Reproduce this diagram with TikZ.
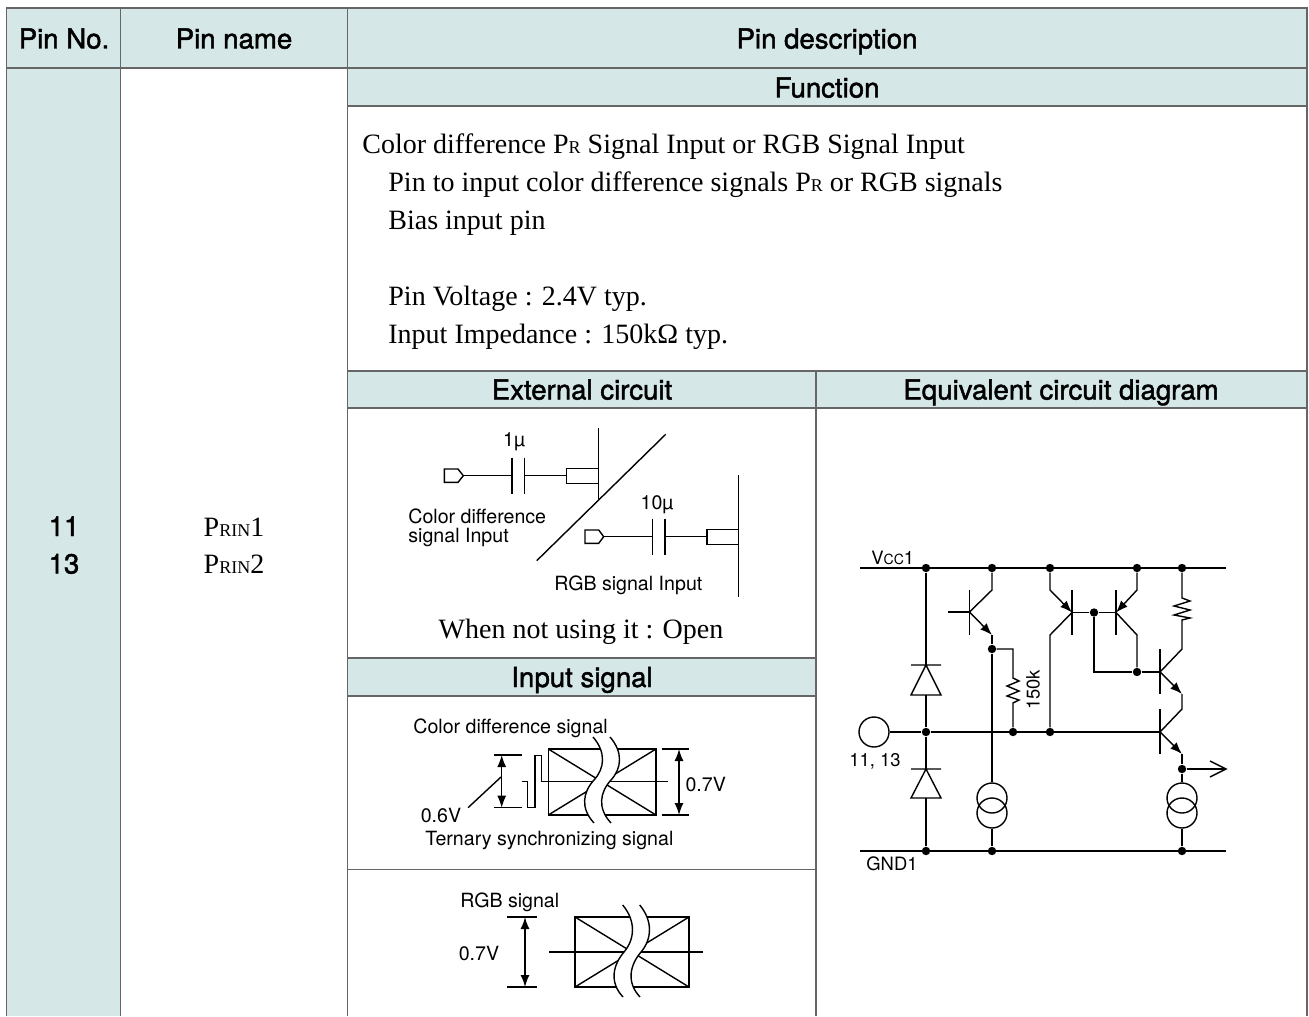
\documentclass[tikz,border=0pt]{standalone}
\usepackage{fontspec}
\setmainfont{Liberation Serif}
\setsansfont{TeX Gyre Heros}
\newfontfamily\headfont[FakeBold=1.6]{TeX Gyre Heros}
\usetikzlibrary{arrows.meta}
\definecolor{headfill}{HTML}{D5E8E7}
\definecolor{tablegrey}{HTML}{666666}

\begin{document}
\begin{tikzpicture}
  [x=0.5pt, y=-0.5pt,
   gridline/.style={draw=tablegrey, line width=0.75pt},
   head/.style={anchor=base, inner sep=0pt, font=\headfont\fontsize{13.8}{15}\selectfont},
   desc/.style={anchor=base west, inner sep=0pt, font=\fontsize{14}{16}\selectfont},
   note/.style={inner sep=0pt, align=left, font=\sffamily\fontsize{9.8}{9.5}\selectfont},
   circnote/.style={inner sep=0pt, font=\sffamily\fontsize{9.2}{10}\selectfont},
   wire/.style={line width=0.7pt},
   emit/.style={-{Latex[length=6pt,width=4.5pt]}},
   dim/.style={{Latex[length=6pt,width=4.5pt]}-{Latex[length=6pt,width=4.5pt]}},
   dot/.style={circle, fill=black, inner sep=0pt, minimum size=4.2pt},
   ring/.style={circle, draw, line width=0.7pt, inner sep=0pt, minimum size=15pt}]
  \useasboundingbox (0, 0) rectangle (1309, 1016);

  \fill[headfill] (6.5, 8) rectangle (1307, 68);
  \fill[headfill] (6.5, 68) rectangle (120.5, 1016);
  \fill[headfill] (347.5, 68) rectangle (1307, 106);
  \fill[headfill] (347.5, 371) rectangle (1307, 408);
  \fill[headfill] (347.5, 658) rectangle (816, 696);
  \draw[gridline] (6.5, 1016) -- (6.5, 8) -- (1307, 8) -- (1307, 1016);
  \draw[gridline] (120.5, 8) -- (120.5, 1016);
  \draw[gridline] (347.5, 8) -- (347.5, 1016);
  \draw[gridline] (816, 371) -- (816, 1016);
  \draw[gridline] (6.5, 68) -- (1307, 68);
  \draw[gridline] (347.5, 106) -- (1307, 106);
  \draw[gridline] (347.5, 371) -- (1307, 371);
  \draw[gridline] (347.5, 408) -- (1307, 408);
  \draw[gridline] (347.5, 658) -- (816, 658);
  \draw[gridline] (347.5, 696) -- (816, 696);
  \draw[gridline] (347.5, 869.5) -- (816, 869.5);

  \node (headno) [head] at (64, 48.5) {Pin No.};
  \node (headname) [head] at (234, 48.5) {Pin name};
  \node (headdesc) [head] at (827, 48.5) {Pin description};
  \node (headfunc) [head] at (827, 97.5) {Function};
  \node (headext) [head] at (582, 399.5) {External circuit};
  \node (headequiv) [head] at (1061, 399.5) {Equivalent circuit diagram};
  \node (headinput) [head] at (582, 687) {Input signal};
  \node (no11) [head] at (64, 536) {11};
  \node (no13) [head] at (64, 573.5) {13};
  \node (name1) [desc, anchor=base] at (234, 536.5) {P{\fontsize{9}{9}\selectfont RIN}1};
  \node (name2) [desc, anchor=base] at (234, 573.5) {P{\fontsize{9}{9}\selectfont RIN}2};

  \node (line1) [desc] at (362, 154) {Color difference P{\fontsize{9}{9}\selectfont R} Signal Input or RGB Signal Input};
  \node (line2) [desc] at (388, 191.5) {Pin to input color difference signals P{\fontsize{9}{9}\selectfont R} or RGB signals};
  \node (line3) [desc] at (388, 229) {Bias input pin};
  \node (line4) [desc] at (388, 305) {Pin Voltage : 2.4V typ.};
  \node (line5) [desc] at (388, 343) {Input Impedance : 150kΩ typ.};
  \node (notused) [desc, anchor=base] at (581, 638) {When not using it : Open};

  \coordinate (capa) at (512, 475.7);
  \coordinate (capb) at (524.3, 475.7);
  \coordinate (plug) at (463.3, 475.7);
  \coordinate (boxa) at (566.7, 475.7);
  \coordinate (capc) at (652.7, 536.7);
  \coordinate (capd) at (665, 536.7);
  \coordinate (plugb) at (603.7, 536.7);
  \coordinate (boxb) at (707, 536.7);
  \draw[wire] (444.3, 469) -- (458, 469) -- (plug) -- (458, 482.3) -- (444.3, 482.3) -- cycle;
  \draw[wire] (plug) -- (capa) (capb) -- (boxa);
  \draw[wire] (512, 457.7) -- (512, 494) (524.3, 457.7) -- (524.3, 494);
  \draw[wire] (boxa |- 0, 468.3) rectangle (598.3, 483.3);
  \draw[wire] (598.3, 428) -- (598.3, 499);
  \draw[wire] (665.7, 434.3) -- (536.7, 560.7);
  \draw[wire] (585, 530) -- (598.7, 530) -- (plugb) -- (598.7, 543.3) -- (585, 543.3) -- cycle;
  \draw[wire] (plugb) -- (capc) (capd) -- (boxb);
  \draw[wire] (652.7, 518.7) -- (652.7, 555) (665, 518.7) -- (665, 555);
  \draw[wire] (boxb |- 0, 529.3) rectangle (738.3, 544.3);
  \draw[wire] (738.3, 475) -- (738.3, 596.7);
  \node (cap1) [note] at (514, 442) {1µ};
  \node (cap10) [note] at (657, 505) {10µ};
  \node (colorin) [note, anchor=north west] at (408, 508) {Color difference\\signal Input};
  \node (rgbin) [note, anchor=west] at (554, 585) {RGB signal Input};

  \draw[wire] (548.3, 749) rectangle (656, 815);
  \draw[wire] (548.3, 749) -- (656, 815) (656, 749) -- (548.3, 815);
  \draw[wire] (521.7, 781.7) -- (527.7, 781.7) -- (527.7, 807.7) -- (535, 807.7) -- (535, 755.7)
    -- (541.7, 755.7) -- (541.7, 781.7) -- (668, 781.7);
  \fill[white] (593, 737) .. controls (606, 752) and (605, 768) .. (594, 780)
    .. controls (583, 792) and (580, 808) .. (594, 823) -- (611, 823)
    .. controls (597, 808) and (600, 792) .. (611, 780)
    .. controls (622, 768) and (623, 752) .. (610, 737) -- cycle;
  \draw[wire] (593, 737) .. controls (606, 752) and (605, 768) .. (594, 780)
    .. controls (583, 792) and (580, 808) .. (594, 823);
  \draw[wire] (610, 737) .. controls (623, 752) and (622, 768) .. (611, 780)
    .. controls (600, 792) and (597, 808) .. (611, 823);
  \draw[wire] (494, 755) -- (521.7, 755) (494, 807.7) -- (521.7, 807.7);
  \draw[wire, dim] (501.7, 755) -- (501.7, 807.7);
  \draw[wire] (501, 777) -- (468, 807.7);
  \draw[wire] (661.7, 749) -- (689, 749) (661.7, 815) -- (689, 815);
  \draw[wire, dim] (679, 749) -- (679, 815);
  \node (colorsig) [note, anchor=west] at (413, 728) {Color difference signal};
  \node (sixv) [note] at (441, 815) {0.6V};
  \node (sevenv) [note] at (705.7, 784) {0.7V};
  \node (ternary) [note, anchor=west] at (425, 840) {Ternary synchronizing signal};

  \draw[wire] (575, 917) rectangle (689, 987);
  \draw[wire] (575, 917) -- (689, 987) (689, 917) -- (575, 987);
  \draw[wire] (549, 952) -- (703, 952);
  \fill[white] (622.7, 905) .. controls (636, 921) and (635, 939) .. (624, 952)
    .. controls (613, 965) and (609, 982) .. (623, 997) -- (640, 997)
    .. controls (626, 982) and (630, 965) .. (641, 952)
    .. controls (652, 939) and (653, 921) .. (639.7, 905) -- cycle;
  \draw[wire] (622.7, 905) .. controls (636, 921) and (635, 939) .. (624, 952)
    .. controls (613, 965) and (609, 982) .. (623, 997);
  \draw[wire] (639.7, 905) .. controls (653, 921) and (652, 939) .. (641, 952)
    .. controls (630, 965) and (626, 982) .. (640, 997);
  \draw[wire] (507, 917) -- (537, 917) (507, 987) -- (537, 987);
  \draw[wire, dim] (525, 917) -- (525, 987);
  \node (rgbsig) [note, anchor=west] at (460, 902) {RGB signal};
  \node (rgbseven) [note] at (479, 953) {0.7V};

  \coordinate (vccl) at (860, 568);
  \coordinate (vccr) at (1226, 568);
  \coordinate (gndl) at (860, 851);
  \coordinate (gndr) at (1226, 851);
  \node (va) [dot] at (926, 568) {};
  \node (vb) [dot] at (992, 568) {};
  \node (vc) [dot] at (1050, 568) {};
  \node (vd) [dot] at (1137, 568) {};
  \node (ve) [dot] at (1182, 568) {};
  \node (ga) [dot] at (926, 851) {};
  \node (gb) [dot] at (992, 851) {};
  \node (gc) [dot] at (1182, 851) {};
  \node (sa) [dot] at (926, 732) {};
  \node (sb) [dot] at (1013, 732) {};
  \node (sc) [dot] at (1050, 732) {};
  \node (ea) [dot] at (992, 649) {};
  \node (ba) [dot] at (1094, 612.5) {};
  \node (bb) [dot] at (1137, 672) {};
  \node (out) [dot] at (1182, 769) {};
  \node (inpin) [ring] at (874, 732) {};
  \node (srca) [ring] at (992, 798) {};
  \node (srcb) [ring] at (992, 813) {};
  \node (srcc) [ring] at (1182, 798) {};
  \node (srcd) [ring] at (1182, 813) {};
  \coordinate (outend) at (1226, 769);
  \coordinate (basea) at (969.5, 612);
  \coordinate (baseb) at (1072, 612.5);
  \coordinate (basec) at (1116, 612.5);
  \coordinate (based) at (1160, 672);
  \coordinate (basee) at (1160, 732);

  \draw[wire] (vccl) -- (vccr);
  \draw[wire] (gndl) -- (gndr);
  \draw[wire] (inpin) -- (sa) -- (basee);
  \draw[wire] (va) -- (926, 665) (926, 695) -- (sa) -- (926, 769) (926, 798) -- (ga);
  \draw[wire] (911, 665) -- (941, 665) (926, 665) -- (911, 695) -- (941, 695) -- cycle;
  \draw[wire] (911, 769) -- (941, 769) (926, 769) -- (911, 798) -- (941, 798) -- cycle;

  \draw[wire] (vb) -- (992, 590) -- (basea);
  \draw[wire] (basea |- 0, 590) -- (basea |- 0, 635);
  \draw[wire] (947.7, 612) -- (basea);
  \draw[wire, emit] (basea) -- (992, 635);
  \draw[wire] (992, 635) -- (ea) -- (srca);
  \draw[wire] (srcb) -- (gb);
  \draw[wire] (ea) -- (1013, 649) -- (1013, 678) -- (1019, 681) -- (1007, 686) -- (1019, 691)
    -- (1007, 696) -- (1019, 700) -- (1013, 703) -- (sb);
  \node (res) [circnote, rotate=90] at (1033, 690) {150k};

  \draw[wire, emit] (vc) -- (1050, 590) -- (baseb);
  \draw[wire] (baseb |- 0, 590) -- (baseb |- 0, 635);
  \draw[wire] (baseb) -- (1050, 635) -- (sc);
  \draw[wire, emit] (vd) -- (1137, 590) -- (basec);
  \draw[wire] (basec |- 0, 590) -- (basec |- 0, 635);
  \draw[wire] (basec) -- (1137, 635) -- (bb);
  \draw[wire] (baseb) -- (ba) -- (basec);
  \draw[wire] (ba) |- (bb) -- (based);

  \draw[wire] (ve) -- (1182, 598) -- (1190, 601) -- (1174, 606) -- (1190, 610) -- (1174, 615)
    -- (1190, 618) -- (1182, 620) -- (1182, 649) -- (based);
  \draw[wire] (based |- 0, 649) -- (based |- 0, 694);
  \draw[wire, emit] (based) -- (1182, 694);
  \draw[wire] (1182, 694) -- (1182, 709) -- (basee);
  \draw[wire] (basee |- 0, 709) -- (basee |- 0, 754);
  \draw[wire, emit] (basee) -- (1182, 754);
  \draw[wire] (1182, 754) -- (out) -- (srcc);
  \draw[wire] (srcd) -- (gc);
  \draw[wire] (out) -- (outend);
  \draw[wire] (1210, 761) -- (outend) -- (1210, 777);

  \node (vcc) [circnote, anchor=west] at (871, 558) {V{\fontsize{7}{8}\selectfont CC}1};
  \node (gnd) [circnote, anchor=west] at (866, 864) {GND1};
  \node (inlabel) [circnote] at (875, 761) {11, 13};
\end{tikzpicture}
\end{document}
